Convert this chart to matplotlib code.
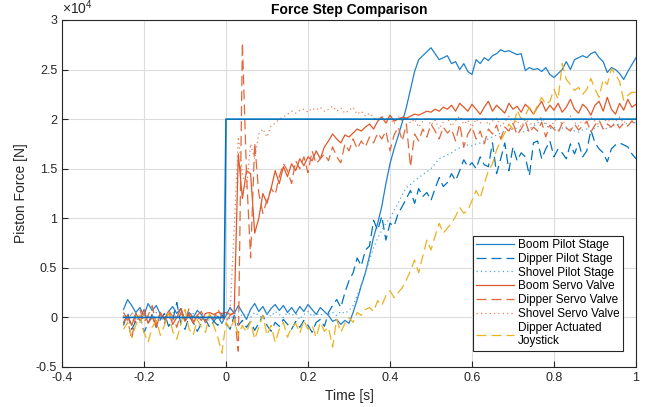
import numpy as np
import matplotlib
matplotlib.use("Agg")
import matplotlib.pyplot as plt

plt.rcParams['font.family'] = ['Liberation Sans', 'DejaVu Sans']
plt.rcParams['axes.unicode_minus'] = False
plt.rcParams['mathtext.fontset'] = 'custom'
plt.rcParams['mathtext.rm'] = 'Liberation Sans'

# sample grid start / step (s); values below are in units of 1e4 N
t0 = -0.25
dt = 0.01

ref_t = [-0.25, -0.005, 0.0, 1.0]
ref_v = [0.0, 0.0, 2.0, 2.0]

boom_pilot = [
    0.08, 0.18, 0.12, 0.05, 0.10, 0.02, 0.14, 0.07, 0.12, 0.03,
    -0.02, 0.06, 0.11, 0.04, 0.09, -0.03, 0.05, 0.00, 0.07, 0.03,
    -0.05, 0.02, -0.04, 0.01, -0.06, 0.02, 0.10, 0.04, 0.12, 0.05,
    -0.02, 0.08, 0.14, 0.06, 0.11, 0.03, 0.09, 0.13, 0.07, 0.12,
    0.05, 0.10, 0.04, 0.11, 0.06, 0.13, 0.08, 0.03, 0.10, 0.06,
    0.02, -0.04, -0.02, -0.07, -0.03, -0.06, 0.05, 0.18, 0.32, 0.45,
    0.62, 0.81, 0.95, 1.12, 1.35, 1.55, 1.70, 1.83, 1.97, 2.12,
    2.30, 2.48, 2.60, 2.64, 2.68, 2.72, 2.66, 2.60, 2.62, 2.64,
    2.56, 2.58, 2.50, 2.56, 2.48, 2.45, 2.60, 2.56, 2.62, 2.59,
    2.64, 2.66, 2.70, 2.68, 2.69, 2.67, 2.65, 2.66, 2.49, 2.52,
    2.50, 2.51, 2.48, 2.52, 2.45, 2.42, 2.46, 2.50, 2.58, 2.50,
    2.60, 2.62, 2.64, 2.62, 2.66, 2.68, 2.62, 2.58, 2.47, 2.52,
    2.50, 2.46, 2.40, 2.48, 2.55, 2.62]

dipper_pilot = [
    -0.08, 0.05, -0.12, -0.04, 0.02, -0.15, -0.06, 0.03, -0.10, -0.02,
    0.04, -0.09, -0.03, 0.15, -0.07, -0.12, 0.01, -0.05, -0.14, -0.06,
    -0.02, -0.10, -0.04, -0.08, 0.03, -0.06, -0.12, 0.02, -0.08, -0.03,
    -0.10, -0.04, -0.13, -0.06, 0.02, -0.08, -0.14, -0.05, -0.09, -0.02,
    -0.07, -0.12, -0.04, -0.10, -0.03, -0.08, -0.15, -0.05, -0.02, -0.09,
    0.05, 0.12, 0.18, 0.10, 0.25, 0.37, 0.45, 0.60, 0.52, 0.68,
    0.72, 0.98, 0.88, 1.02, 0.78, 0.95, 0.92, 1.05, 1.12, 1.20,
    1.28, 1.15, 1.30, 1.22, 1.26, 1.18, 1.30, 1.41, 1.32, 1.36,
    1.45, 1.38, 1.48, 1.59, 1.52, 1.56, 1.50, 1.62, 1.54, 1.52,
    1.76, 1.45, 1.60, 1.76, 1.48, 1.72, 1.58, 1.66, 1.62, 1.43,
    1.76, 1.78, 1.60, 1.70, 1.78, 1.62, 1.70, 1.66, 1.60, 1.75,
    1.65, 1.76, 1.62, 1.68, 1.89, 1.76, 1.70, 1.66, 1.57, 1.70,
    1.74, 1.76, 1.74, 1.72, 1.65, 1.60]

shovel_pilot = [
    0.02, -0.03, 0.04, 0.00, -0.05, 0.03, 0.01, -0.02, 0.05, 0.00,
    -0.04, 0.02, 0.06, -0.01, 0.03, -0.03, 0.01, 0.04, -0.02, 0.02,
    0.00, -0.03, 0.03, -0.01, 0.02, 0.05, -0.02, 0.03, 0.06, 0.01,
    0.04, 0.00, 0.05, 0.02, -0.01, 0.04, 0.01, 0.06, 0.03, 0.00,
    0.05, 0.02, 0.04, -0.02, 0.03, 0.06, 0.01, 0.04, 0.02, 0.05,
    0.03, 0.05, 0.02, 0.06, 0.04, 0.07, 0.12, 0.22, 0.33, 0.45,
    0.58, 0.70, 0.80, 0.88, 0.95, 1.00, 1.08, 1.15, 1.24, 1.31,
    1.34, 1.38, 1.41, 1.44, 1.47, 1.50, 1.55, 1.60, 1.62, 1.64,
    1.66, 1.69, 1.71, 1.72, 1.74, 1.73, 1.75, 1.76, 1.78, 1.80,
    1.82, 1.84, 1.86, 1.88, 1.89, 1.90, 1.91, 1.88, 1.87, 1.90,
    1.93, 1.96, 1.99, 1.95, 1.90, 1.92, 1.89, 1.91, 1.92, 1.90,
    1.88, 1.87, 1.89, 1.90, 1.88, 1.91, 1.93, 1.92, 1.90, 1.93,
    1.94, 1.95, 1.94, 1.96, 1.97, 1.96]

boom_servo = [
    -0.05, 0.02, -0.08, 0.04, -0.03, 0.08, -0.06, 0.01, -0.10, 0.05,
    -0.02, 0.06, -0.07, 0.00, 0.09, -0.04, 0.03, -0.06, 0.02, -0.03,
    0.04, 0.05, 0.03, 0.05, 0.04, 0.05, 0.03, 0.04, 1.65, 1.20,
    1.48, 1.45, 0.85, 1.00, 1.25, 1.15, 1.30, 1.48, 1.35, 1.52,
    1.42, 1.55, 1.48, 1.60, 1.53, 1.62, 1.58, 1.68, 1.60, 1.72,
    1.78, 1.85, 1.80, 1.76, 1.84, 1.82, 1.86, 1.90, 1.88, 1.92,
    1.95, 1.90, 1.98, 2.02, 1.96, 2.04, 1.98, 2.00, 2.02, 2.01,
    2.03, 2.05, 2.04, 2.06, 2.08, 2.07, 2.10, 2.08, 2.12, 2.10,
    2.14, 2.08, 2.16, 2.12, 2.08, 2.15, 2.10, 2.05, 2.12, 2.18,
    2.08, 2.14, 2.10, 2.06, 2.16, 2.10, 2.13, 2.07, 2.15, 2.11,
    2.05, 2.12, 2.18, 2.08, 2.14, 2.09, 2.16, 2.07, 2.12, 2.20,
    2.10, 2.06, 2.15, 2.11, 2.04, 2.14, 2.18, 2.08, 2.22, 2.10,
    2.05, 2.16, 2.09, 2.20, 2.12, 2.15]

dipper_servo = [
    0.05, -0.02, -0.22, 0.03, 0.08, -0.05, 0.02, 0.12, -0.08, 0.04,
    -0.06, 0.07, 0.01, -0.10, 0.05, -0.03, 0.09, -0.04, 0.02, 0.06,
    -0.05, 0.03, -0.02, 0.08, 0.01, -0.04, 0.02, 0.05, -0.34, 2.77,
    1.45, 0.60, 1.76, 1.25, 1.05, 1.18, 1.30, 1.24, 1.42, 1.55,
    1.48, 1.35, 1.58, 1.50, 1.62, 1.46, 1.68, 1.55, 1.60, 1.65,
    1.58, 1.72, 1.62, 1.56, 1.75, 1.68, 1.80, 1.70, 1.78, 1.72,
    1.82, 1.76, 1.86, 1.80, 1.88, 1.68, 1.84, 1.92, 1.78, 1.95,
    1.52, 1.85, 1.78, 1.90, 1.82, 1.95, 1.88, 1.80, 1.92, 1.86,
    1.90, 1.78, 1.95, 1.72, 1.85, 1.92, 1.80, 1.88, 1.75, 1.90,
    1.85, 1.94, 1.80, 1.92, 1.88, 1.96, 1.84, 1.90, 1.98, 1.86,
    1.92, 1.88, 1.97, 1.82, 1.94, 1.90, 1.86, 1.96, 1.91, 1.88,
    1.95, 1.89, 1.93, 1.98, 1.87, 1.94, 1.99, 1.90, 1.95, 1.92,
    1.97, 1.91, 1.96, 1.93, 1.98, 1.94]

shovel_servo = [
    0.02, -0.04, 0.05, 0.00, -0.03, 0.04, -0.01, 0.03, -0.05, 0.02,
    0.00, 0.04, -0.03, 0.02, 0.05, -0.02, 0.01, -0.04, 0.03, 0.00,
    0.02, -0.02, 0.04, 0.01, -0.03, 0.03, 0.05, 0.90, 1.82, 1.45,
    1.30, 1.75, 1.60, 1.85, 1.90, 1.82, 1.93, 1.96, 2.00, 2.02,
    2.05, 2.08, 2.06, 2.09, 2.10, 2.07, 2.11, 2.09, 2.12, 2.08,
    2.10, 2.13, 2.08, 2.11, 2.06, 2.09, 2.12, 2.05, 2.08, 2.03,
    2.06, 2.02, 1.98, 2.04, 1.96, 2.01, 1.95, 2.03, 1.98, 2.02,
    1.96, 2.00, 1.92, 1.98, 2.02, 1.94, 1.99, 1.90, 1.97, 2.01,
    1.93, 1.98, 2.03, 1.95, 1.99, 1.92, 2.00, 1.96, 2.02, 1.94,
    1.98, 2.01, 1.93, 1.97, 2.03, 1.95, 1.99, 1.92, 2.00, 1.96,
    1.94, 1.99, 2.02, 1.96, 1.90, 1.98, 2.01, 1.95, 1.99, 2.03,
    1.97, 1.93, 2.00, 1.96, 2.02, 1.98, 1.94, 2.01, 1.97, 2.00,
    1.98, 2.02, 1.96, 2.00, 1.99, 2.01]

joystick = [
    -0.12, -0.05, -0.20, -0.08, 0.02, -0.15, -0.25, -0.10, -0.03, -0.18,
    -0.08, 0.05, -0.14, -0.22, -0.06, 0.08, -0.12, -0.18, -0.02, -0.10,
    -0.15, 0.04, -0.08, -0.20, -0.36, -0.05, -0.12, -0.02, -0.18, -0.08,
    -0.15, -0.04, -0.22, -0.10, 0.02, -0.18, -0.08, -0.25, -0.12, -0.05,
    -0.20, -0.10, -0.06, -0.16, -0.03, -0.12, -0.08, -0.20, -0.05, -0.14,
    -0.10, -0.30, -0.02, -0.15, -0.06, 0.00, -0.05, 0.05, 0.02, 0.08,
    0.10, 0.06, 0.17, 0.12, 0.22, 0.27, 0.20, 0.25, 0.30, 0.38,
    0.47, 0.58, 0.45, 0.62, 0.78, 0.68, 0.82, 0.95, 0.85, 0.90,
    0.95, 1.02, 1.11, 1.05, 1.08, 1.18, 1.28, 1.20, 1.35, 1.48,
    1.55, 1.69, 1.78, 1.86, 1.95, 1.90, 2.09, 2.00, 2.04, 2.12,
    2.05, 2.14, 2.22, 2.15, 2.18, 2.30, 2.20, 2.56, 2.40, 2.35,
    2.29, 2.32, 2.25, 2.30, 2.41, 2.30, 2.22, 2.40, 2.35, 2.51,
    2.45, 2.38, 2.19, 2.24, 2.27, 2.27]

labels = ["Boom Pilot Stage", "Dipper Pilot Stage", "Shovel Pilot Stage",
          "Boom Servo Valve", "Dipper Servo Valve", "Shovel Servo Valve",
          "Dipper Actuated\nJoystick"]
x_ticks = [-0.4, -0.2, 0, 0.2, 0.4, 0.6, 0.8, 1]
y_ticks = [-0.5, 0, 0.5, 1, 1.5, 2, 2.5, 3]

series = [boom_pilot, dipper_pilot, shovel_pilot, boom_servo,
          dipper_servo, shovel_servo, joystick]
colors = ['#1F80CC', '#0072BD', '#4DA8E6', '#E0582A', '#E2683C',
          '#E8835C', '#EDB120']
dash = (0, (8, 4))
dot = (0, (1, 2.5))
styles = ['-', dash, dot, '-', dash, dot, dash]

fig = plt.figure(figsize=(6.56, 4.07), dpi=100)
ax = fig.add_axes([0.0945, 0.0983, 0.875, 0.8526])

for vals, lab, c, ls in zip(series, labels, colors, styles):
    t = t0 + dt * np.arange(len(vals))
    ax.plot(t, vals, color=c, linestyle=ls, lw=0.9, label=lab)

ax.plot(ref_t, ref_v, color='#0072BD', lw=1.2, label='_nolegend_')

ax.set_xlim(-0.4, 1)
ax.set_ylim(-0.5, 3)
ax.set_xticks(x_ticks)
ax.set_yticks(y_ticks)
ax.set_xticklabels(['%g' % v for v in x_ticks])
ax.set_yticklabels(['%g' % v for v in y_ticks])
ax.tick_params(direction='in', length=4, labelsize=9, colors='#262626')
ax.grid(True, color='#dcdcdc', lw=0.8)
ax.set_axisbelow(True)
for s in ax.spines.values():
    s.set_color('#262626')
    s.set_linewidth(0.8)

ax.set_xlabel('Time [s]', fontsize=10, color='#262626', labelpad=4)
ax.set_ylabel('Piston Force [N]', fontsize=10, color='#262626', labelpad=6)
ax.set_title('Force Step Comparison', fontsize=10, fontweight='bold', pad=4)
ax.text(0.0, 1.008, r'$\times10^{4}$', transform=ax.transAxes, fontsize=10,
        color='#262626', ha='left', va='bottom')

leg = ax.legend(loc='lower right', bbox_to_anchor=(0.977, 0.046),
                borderaxespad=0, fontsize=8.5, fancybox=False, framealpha=1,
                edgecolor='#262626', handlelength=3.2, handletextpad=0.3,
                labelspacing=0.15, borderpad=0.3)
leg.get_frame().set_linewidth(0.8)

fig.savefig('out.png', dpi=100)
